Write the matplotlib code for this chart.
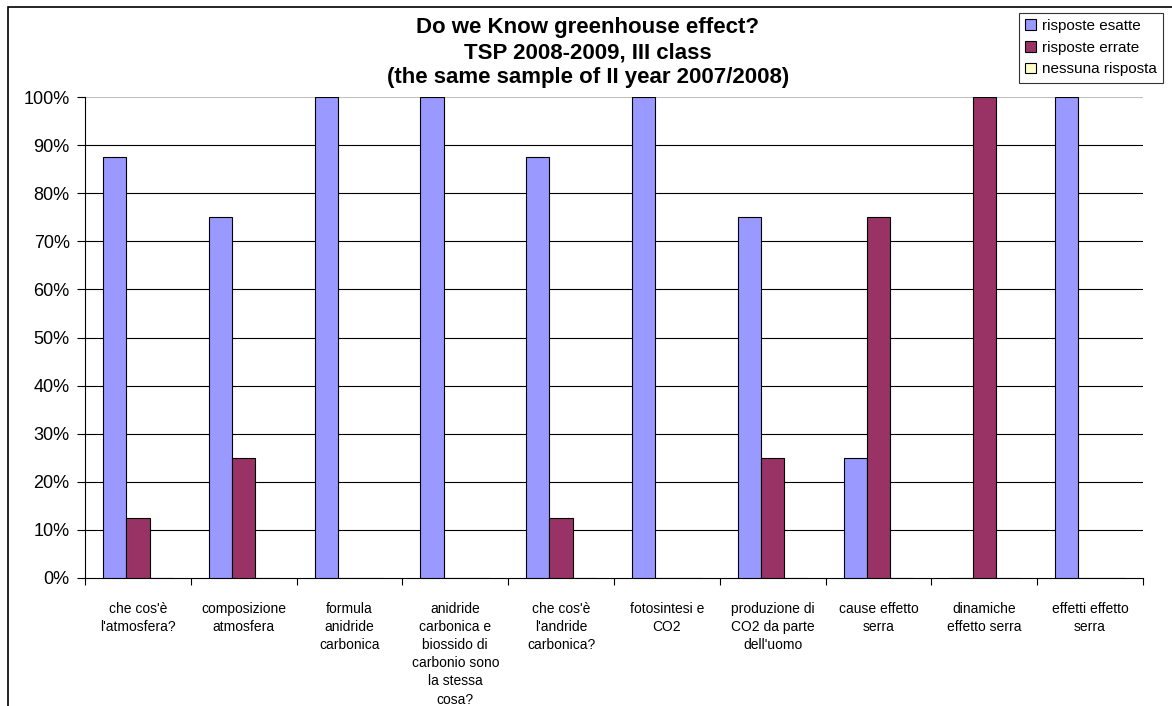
import matplotlib
matplotlib.use("Agg")
import matplotlib.pyplot as plt
import numpy as np
from matplotlib.patches import Rectangle

plt.rcParams['font.family'] = ['Liberation Sans', 'DejaVu Sans']

categorie = ["che cos'è\nl'atmosfera?", "composizione\natmosfera",
             "formula\nanidride\ncarbonica",
             "anidride\ncarbonica e\nbiossido di\ncarbonio sono\nla stessa\ncosa?",
             "che cos'è\nl'andride\ncarbonica?", "fotosintesi e\nCO2",
             "produzione di\nCO2 da parte\ndell'uomo", "cause effetto\nserra",
             "dinamiche\neffetto serra", "effetti effetto\nserra"]
esatte = [0.875, 0.75, 1.0, 1.0, 0.875, 1.0, 0.75, 0.25, 0.0, 1.0]
errate = [0.125, 0.25, 0.0, 0.0, 0.125, 0.0, 0.25, 0.75, 1.0, 0.0]
nessuna = [0, 0, 0, 0, 0, 0, 0, 0, 0, 0]
serie = ["risposte esatte", "risposte errate", "nessuna risposta"]
colori = ["#9999FF", "#993366", "#FFFFCC"]

W, H = 1172, 706
fig = plt.figure(figsize=(W / 100, H / 100), dpi=100)
ax = fig.add_axes([85 / W, 1 - 578 / H, (1143 - 85) / W, (578 - 97) / H])

# cornice esterna del grafico
fig.patches.append(Rectangle((8 / W, -0.1), 1.2, 1 - 7 / H + 0.1, transform=fig.transFigure,
                             fill=False, edgecolor="black", linewidth=1.2))

x = np.arange(len(categorie))
w = 0.22
for i, (vals, lab, c) in enumerate(zip([esatte, errate, nessuna], serie, colori)):
    ax.bar(x + (i - 1) * w, vals, w, color=c, edgecolor="black", linewidth=0.8,
           label=lab, zorder=3)

ax.set_xlim(-0.5, len(categorie) - 0.5)
ax.set_ylim(0, 1.0)
ax.set_yticks(np.arange(0, 1.01, 0.1))
ax.set_yticklabels([f"{int(round(v * 100))}%" for v in np.arange(0, 1.01, 0.1)], fontsize=13)
for v in np.arange(0.1, 0.95, 0.1):
    ax.axhline(v, color="black", linewidth=0.8, zorder=1)
ax.axhline(1.0, color="#C0C0C0", linewidth=1.5, zorder=1)

ax.set_xticks(x)
ax.set_xticklabels(categorie, fontsize=10, linespacing=1.38)
ax.set_xticks(np.arange(-0.5, len(categorie), 1), minor=True)
ax.tick_params(axis="x", which="major", length=0, pad=17)
ax.tick_params(axis="x", which="minor", length=5, width=0.8, direction="out")
ax.tick_params(axis="y", length=6, width=0.8, pad=5)

for s in ["top", "right"]:
    ax.spines[s].set_visible(False)
ax.spines["left"].set_linewidth(0.8)
ax.spines["bottom"].set_linewidth(0.8)

fig.text(588 / W, 1 - 52.5 / H,
         "Do we Know greenhouse effect?\nTSP 2008-2009, III class\n(the same sample of II year 2007/2008)",
         ha="center", va="center", fontsize=16, fontweight="bold", linespacing=1.27)

leg = ax.legend(loc="upper right", bbox_to_anchor=(1163 / W, 1 - 13 / H),
                bbox_transform=fig.transFigure, fontsize=11, frameon=True, fancybox=False,
                handlelength=0.7, handleheight=0.7, handletextpad=0.4, borderpad=0.4,
                labelspacing=0.5, borderaxespad=0)
leg.get_frame().set_edgecolor("black")
leg.get_frame().set_linewidth(0.8)

fig.savefig("out.png", dpi=100)
